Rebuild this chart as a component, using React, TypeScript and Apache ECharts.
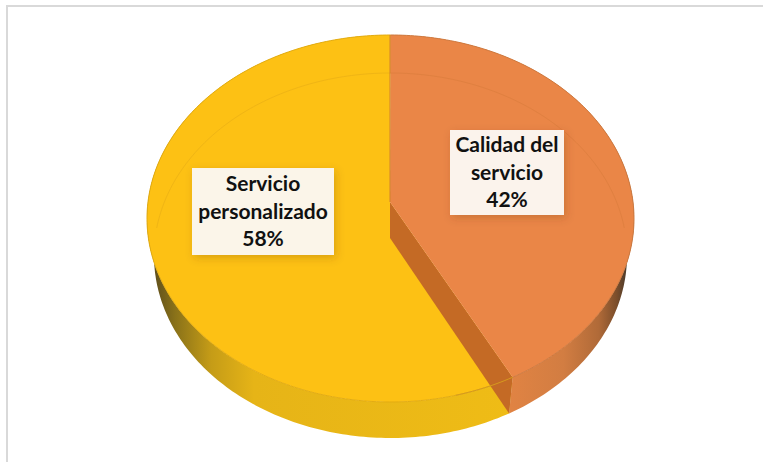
import React, { useEffect, useRef } from "react";
import * as echarts from "echarts";

const categories = ["Servicio personalizado", "Calidad del servicio"];
const labelLines = [["Servicio", "personalizado"], ["Calidad del", "servicio"]];
const values = [58, 42];

const topColors = ["#FDC114", "#EA8647"];
const rimColors = ["#E3AC12", "#CE7A40"];
const faintColors = ["#F0B515", "#E08040"];
const labelFills = ["#FBF5E9", "#FBF3EC"];
const labelBoxes = [
  { x: 192, y: 168, w: 142, h: 87 },
  { x: 450, y: 130, w: 114, h: 85 },
];

const TOP = { cx: 390.5, cy: 218.5, rx: 243.5, ry: 183.5 };
const BOTTOM = { cx: 390.5, cy: 255.5, rx: 236.5, ry: 182.5 };
const APEX_TOP: [number, number] = [390, 202];
const APEX_BOTTOM: [number, number] = [390, 238];
const total = values.reduce((a, b) => a + b, 0);

// slices run counter-clockwise from 12 o'clock, in drawing order
function sliceRange(i: number): [number, number] {
  let end = 360;
  for (let k = 0; k < i; k++) end -= (values[k] / total) * 360;
  const start = end - (values[i] / total) * 360;
  return [Math.abs(start) < 1e-6 ? 0 : start, end];
}

// the slight perspective of the 3D pie moves the angles a little
function pt(e: typeof TOP, deg: number): [number, number] {
  const r = (deg * Math.PI) / 180;
  const t = r - 0.047 * Math.sin(r);
  return [e.cx + e.rx * Math.sin(t), e.cy - e.ry * Math.cos(t)];
}

function arc(e: typeof TOP, a: number, b: number): [number, number][] {
  const n = Math.max(2, Math.ceil(Math.abs(b - a)));
  const out: [number, number][] = [];
  for (let i = 0; i <= n; i++) out.push(pt(e, a + ((b - a) * i) / n));
  return out;
}

const wallGradients = [
  new echarts.graphic.LinearGradient(154, 0, 511, 0, [
    { offset: 0, color: "#5F4F1C" },
    { offset: 0.06, color: "#8A7219" },
    { offset: 0.16, color: "#C59C17" },
    { offset: 0.28, color: "#E6B417" },
    { offset: 1, color: "#EFBC16" },
  ], true),
  new echarts.graphic.LinearGradient(511, 0, 628, 0, [
    { offset: 0, color: "#E08343" },
    { offset: 0.45, color: "#D27D42" },
    { offset: 0.75, color: "#B06A38" },
    { offset: 0.9, color: "#7C4E2B" },
    { offset: 1, color: "#46382A" },
  ], true),
];

const renderItem = (params: any, api: any) => {
  const i = params.dataIndex;
  const value = api.value(0);
  const [a, b] = sliceRange(i);
  const first = a === 0;
  const children: any[] = [];

  children.push({
    type: "polygon",
    shape: { points: [...arc(TOP, a, b), ...arc(BOTTOM, b, a)] },
    style: { fill: wallGradients[i] },
  });

  if (first) {
    children.push({
      type: "polygon",
      shape: { points: [APEX_TOP, pt(TOP, b), pt(BOTTOM, b), APEX_BOTTOM] },
      style: { fill: "#C46A25" },
    });
  }

  children.push({
    type: "polygon",
    shape: { points: [APEX_TOP, ...arc(TOP, a, b)] },
    style: { fill: topColors[i] },
  });

  // back of the lower rim, seen through the surface
  const back = first ? arc(BOTTOM, 0, 84) : arc(BOTTOM, 276, 360);
  children.push({
    type: "polyline",
    shape: { points: back },
    style: { stroke: faintColors[i], lineWidth: 1, fill: "none" },
  });

  children.push({
    type: "polyline",
    shape: { points: arc(TOP, a, b) },
    style: { stroke: rimColors[i], lineWidth: 1, fill: "none" },
  });

  if (first) {
    children.push({
      type: "polyline",
      shape: { points: arc(TOP, b, b + 14) },
      style: { stroke: "#D69A1E", lineWidth: 1, fill: "none" },
    });
    children.push({
      type: "line",
      shape: { x1: APEX_TOP[0], y1: TOP.cy - TOP.ry, x2: APEX_TOP[0], y2: APEX_TOP[1] },
      style: { stroke: "#D2812B", lineWidth: 1 },
    });
  }

  const box = labelBoxes[i];
  children.push({
    type: "rect",
    shape: { x: box.x, y: box.y, width: box.w, height: box.h },
    style: {
      fill: labelFills[i],
      shadowBlur: 8,
      shadowOffsetX: 2,
      shadowOffsetY: 3,
      shadowColor: "rgba(90,50,0,0.22)",
    },
  });
  children.push({
    type: "text",
    style: {
      text: [...labelLines[i], `${value}%`].join("\n"),
      x: box.x + box.w / 2,
      y: box.y + box.h / 2 - 1.5,
      align: "center",
      verticalAlign: "middle",
      fontFamily: "Lato",
      fontWeight: "bold",
      fontSize: 21,
      lineHeight: 27.5,
      fill: "#111111",
    },
  });

  return { type: "group", children };
};

export default function App() {
  const ref = useRef<HTMLDivElement>(null);
  useEffect(() => {
    const chart = echarts.init(ref.current!, undefined, { renderer: "svg" });
    chart.setOption({
      animation: false,
      backgroundColor: "#ffffff",
      graphic: [
        { type: "rect", shape: { x: 6, y: 5, width: 757, height: 2 }, style: { fill: "#D9D9D9" } },
        { type: "rect", shape: { x: 6, y: 5, width: 2, height: 457 }, style: { fill: "#D9D9D9" } },
      ],
      series: [
        {
          type: "custom",
          coordinateSystem: "none",
          silent: true,
          renderItem,
          data: categories.map((name, i) => ({ name, value: [values[i]] })),
        },
      ],
    });
    return () => chart.dispose();
  }, []);
  return (
    <div
      ref={ref}
      style={{ position: "fixed", left: 0, top: 0, width: 763, height: 462 }}
    />
  );
}
